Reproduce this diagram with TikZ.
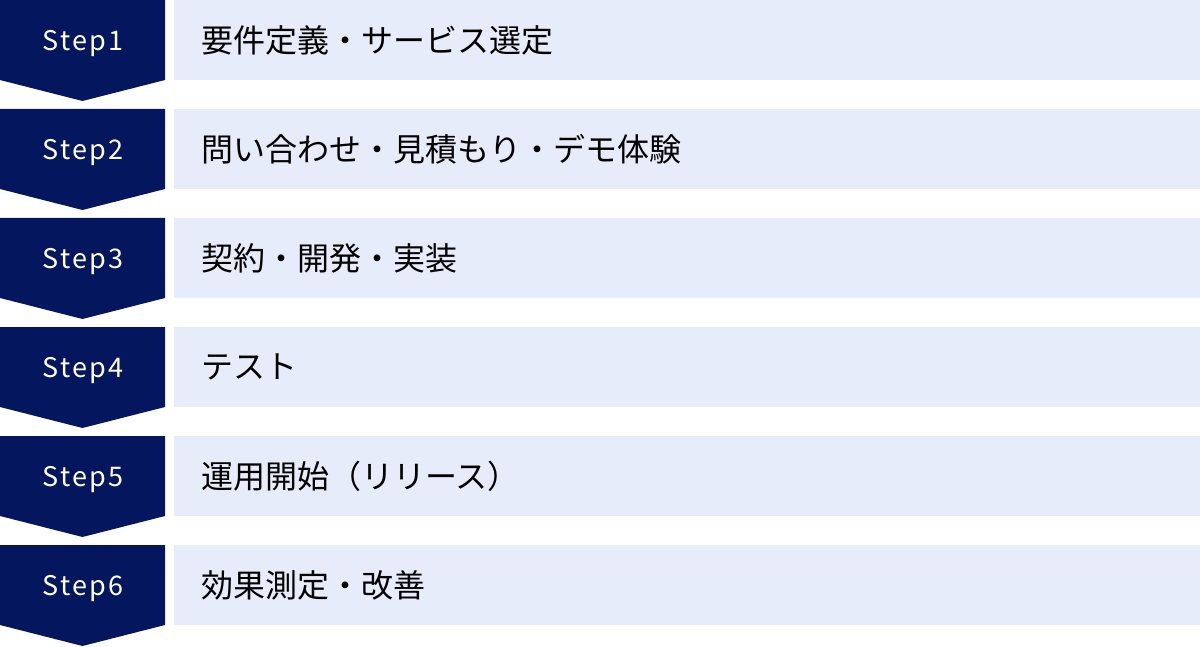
\documentclass[tikz,border=0pt]{standalone}
\usepackage{fontspec}
\usepackage{tikz}
\newfontfamily\jpfont{Noto Sans CJK JP}
\newfontfamily\jpspaced[LetterSpace=8]{Noto Sans CJK JP}
\definecolor{stepnavy}{RGB}{4,23,94}
\definecolor{steplight}{RGB}{230,236,249}
\tikzset{
  steplabel/.style={text=white,font=\jpspaced\fontsize{27}{27}\selectfont,inner sep=0pt},
  steptext/.style={text=black,font=\jpfont\fontsize{32}{32}\selectfont,inner sep=0pt,anchor=west}
}
\begin{document}
\begin{tikzpicture}[x=1pt,y=-1pt] %Six steps, top to bottom
        \useasboundingbox (0,0) rectangle (1200,647);
        \foreach \n/\txt [evaluate=\n as \top using {(\n-1)*109}] in
                {1/要件定義・サービス選定,
                 2/問い合わせ・見積もり・デモ体験,
                 3/契約・開発・実装,
                 4/テスト,
                 5/運用開始（リリース）,
                 6/効果測定・改善}
        {
                \fill[stepnavy](0,\top)--(165,\top)--(165,\top+80)--(82.5,\top+101)--(0,\top+80)--cycle;
                \fill[steplight](174,\top) rectangle (1200,\top+80);
                \node[steplabel] (step\n) at (83,\top+44) {Step\n};
                \node[steptext] (task\n) at (201,\top+40) {\txt};
        }
\end{tikzpicture}
\end{document}
